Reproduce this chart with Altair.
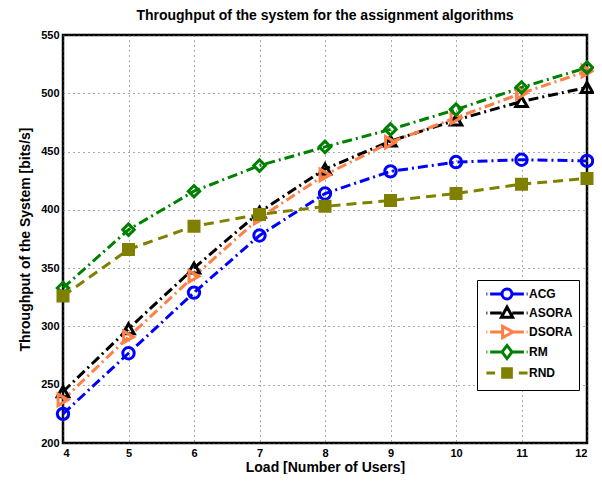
import altair as alt
import pandas as pd

loads = [4, 5, 6, 7, 8, 9, 10, 11, 12]
acg = [225, 277, 329, 378, 414, 433, 441, 443, 442]
asora = [244, 298, 350, 398, 435, 459, 477, 493, 505]
dsora = [237, 291, 343, 393, 430, 458, 479, 500, 519]
rm = [333, 383, 416, 438, 454, 469, 486, 505, 522]
rnd = [326, 366, 386, 396, 403, 408, 414, 422, 427]

series = ["ACG", "ASORA", "DSORA", "RM", "RND"]
colors = ["#0000FF", "#000000", "#FF7F45", "#008000", "#808000"]
shapes = ["circle", "triangle-up", "triangle-right", "diamond", "square"]

rows = []
for name, vals in zip(series, [acg, asora, dsora, rm, rnd]):
    for x, y in zip(loads, vals):
        rows.append({"Load": x, "Throughput": y, "Algorithm": name})
df = pd.DataFrame(rows)

FONT = "Liberation Sans"

# legend glyphs: line segments + marker (unit coordinates)
dd = "M-3.3,0L-3.15,0M-2.7,0L-0.85,0M0.85,0L2.7,0M3.15,0L3.3,0"
glyphs = {
    "ACG": dd + "M-0.8,0A0.8,0.8 0 1,0 0.8,0A0.8,0.8 0 1,0 -0.8,0Z",
    "ASORA": dd + "M0,-0.95L0.9,0.7L-0.9,0.7Z",
    "DSORA": dd + "M0.95,0L-0.7,-0.9L-0.7,0.9Z",
    "RM": dd + "M0,-1.05L0.8,0L0,1.05L-0.8,0Z",
    "RND": ("M-3.3,0L-1.9,0M1.9,0L3.3,0"
            "M-0.7,-0.7L0.7,-0.7L0.7,0.7L-0.7,0.7Z"
            "M-0.4,-0.4L0.4,-0.4L0.4,0.4L-0.4,0.4Z"
            "M-0.15,-0.15L0.15,-0.15L0.15,0.15L-0.15,0.15Z"),
}
expr = "".join(f"datum.value === '{k}' ? '{v}' : " for k, v in glyphs.items()) + "'circle'"
fill_expr = "datum.value === 'RND' ? '#808000' : 'transparent'"

leg = alt.Legend(title=None, orient="none", legendX=414, legendY=245,
                 fillColor="white", strokeColor="black", padding=6,
                 labelFont=FONT, labelFontSize=12, labelFontWeight="bold",
                 symbolSize=156, symbolStrokeWidth=3, rowPadding=-5,
                 symbolType={"expr": expr}, symbolFillColor={"expr": fill_expr},
                 symbolOffset=16, labelColor="black", labelOffset=14)

xenc = alt.X("Load:Q", scale=alt.Scale(domain=[4, 12], nice=False),
             axis=alt.Axis(values=loads, title="Load [Number of Users]", format="d"))
yenc = alt.Y("Throughput:Q", scale=alt.Scale(domain=[200, 550], nice=False),
             axis=alt.Axis(values=list(range(200, 551, 50)),
                           title="Throughput of the System [bits/s]"))
cenc = alt.Color("Algorithm:N", scale=alt.Scale(domain=series, range=colors), legend=leg)

base = alt.Chart(df)

lines_dd = base.transform_filter(alt.datum.Algorithm != "RND").mark_line(
    strokeWidth=3, strokeDash=[10, 4, 2, 4]).encode(x=xenc, y=yenc, color=cenc)
lines_d = base.transform_filter(alt.datum.Algorithm == "RND").mark_line(
    strokeWidth=3, strokeDash=[10, 6]).encode(x=xenc, y=yenc, color=cenc)

layers = [lines_dd, lines_d]
for name, shp in zip(series, shapes):
    if name == "RND":
        mk = base.transform_filter(alt.datum.Algorithm == name).mark_point(
            filled=False, fill="#808000", shape=shp, size=100, strokeWidth=3, opacity=1)
    else:
        mk = base.transform_filter(alt.datum.Algorithm == name).mark_point(
            filled=False, shape=shp, size=130, strokeWidth=3, opacity=1)
    layers.append(mk.encode(x=xenc, y=yenc, color=cenc))

chart = alt.layer(*layers).properties(
    width=524, height=408,
    title=alt.TitleParams("Throughput of the system for the assignment algorithms",
                          font=FONT, fontSize=14, fontWeight="bold", offset=6),
    autosize=alt.AutoSizeParams(type="none"),
    padding={"left": 55, "top": 27, "right": 7, "bottom": 31},
).configure_axis(
    labelFont=FONT, labelFontSize=11, labelFontWeight="bold", labelColor="black",
    titleFont=FONT, titleFontSize=14, titleFontWeight="bold", titleColor="black",
    grid=True, gridColor="#555555", gridDash=[1, 4], gridWidth=1,
    domain=False, ticks=False, labelPadding=4,
).configure_axisY(titlePadding=8).configure_axisX(titlePadding=2).configure_view(
    stroke="black", strokeWidth=2.5
)

chart.save("out.html", embed_options={"renderer": "svg", "actions": False})
